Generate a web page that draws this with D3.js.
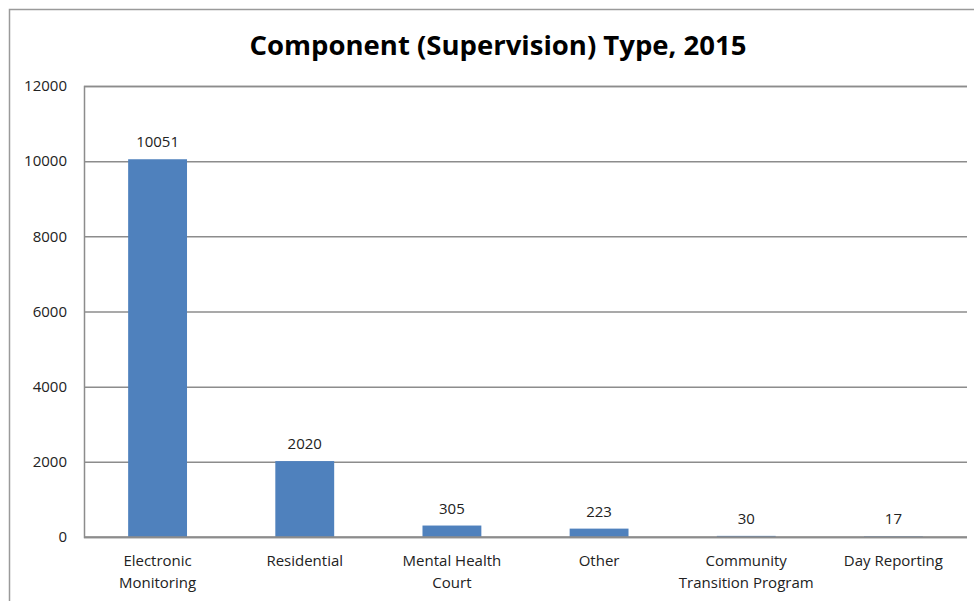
<!DOCTYPE html>
<html>
<head>
<meta charset="utf-8">
<script src="https://cdn.jsdelivr.net/npm/d3@7"></script>
<style>
  body { margin: 0; background: #fff; }
  svg { display: block; font-family: "Open Sans", sans-serif; }
</style>
</head>
<body>
<svg width="974" height="601"></svg>
<script>
// данные графика
const categories = [
    ["Electronic", "Monitoring"],
    ["Residential"],
    ["Mental Health", "Court"],
    ["Other"],
    ["Community", "Transition Program"],
    ["Day Reporting"]
];
const values = [10051, 2020, 305, 223, 30, 17];
const yTicks = [0, 2000, 4000, 6000, 8000, 10000, 12000];
const title = "Component (Supervision) Type, 2015";

const svg = d3.select("svg");

const area = { left: 84, top: 86, right: 967, bottom: 537 };
const fs = "15px";

// рамка всей диаграммы (обрезана справа и снизу)
svg.append("rect")
    .attr("x", 9.5).attr("y", 9.5)
    .attr("width", 1000).attr("height", 1000)
    .attr("fill", "none")
    .attr("stroke", "#9a9a9a")
    .attr("stroke-width", 1.5);

svg.append("text")
    .attr("x", 498)
    .attr("y", 55)
    .attr("text-anchor", "middle")
    .style("font-size", "27.5px")
    .style("font-weight", "bold")
    .attr("fill", "#000")
    .text(title);

const idx = d3.range(values.length);

const scX = d3.scaleBand()
    .domain(idx)
    .range([area.left, area.right])
    .paddingInner(0.6)
    .paddingOuter(0.3);

const scY = d3.scaleLinear()
    .domain([0, 12000])
    .range([area.bottom, area.top]);

// сетка и ось Y
const axisY = d3.axisLeft(scY)
    .tickValues(yTicks)
    .tickSize(-(area.right - area.left))
    .tickPadding(17)
    .tickFormat(d3.format("d"));

const gY = svg.append("g")
    .attr("transform", `translate(${area.left},0)`)
    .call(axisY);
gY.select(".domain").attr("stroke", "#8c8c8c").attr("stroke-width", 1.5);
gY.selectAll(".tick line").attr("stroke", "#8c8c8c").attr("stroke-width", 1.5);
gY.selectAll(".tick text")
    .style("font-size", fs)
    .style("font-family", "'Open Sans', sans-serif")
    .attr("fill", "#222");

// столбцы
svg.selectAll(".bar")
    .data(idx)
    .enter()
    .append("rect")
    .attr("x", i => scX(i))
    .attr("width", scX.bandwidth())
    .attr("y", i => scY(values[i]))
    .attr("height", i => scY(0) - scY(values[i]))
    .attr("fill", "#4f81bd");

// ось X (линия)
svg.append("line")
    .attr("x1", area.left).attr("x2", area.right)
    .attr("y1", area.bottom).attr("y2", area.bottom)
    .attr("stroke", "#8c8c8c").attr("stroke-width", 1.5);

// подписи значений
svg.selectAll(".val")
    .data(idx)
    .enter()
    .append("text")
    .attr("x", i => scX(i) + scX.bandwidth() / 2)
    .attr("y", i => scY(values[i]) - 12)
    .attr("text-anchor", "middle")
    .style("font-size", fs)
    .attr("fill", "#222")
    .text(i => values[i]);

// подписи категорий
const catG = svg.selectAll(".cat")
    .data(idx)
    .enter()
    .append("text")
    .attr("text-anchor", "middle")
    .style("font-size", fs)
    .attr("fill", "#222");

catG.selectAll("tspan")
    .data(i => categories[i].map(t => ({ i, t })))
    .enter()
    .append("tspan")
    .attr("x", d => scX(d.i) + scX.bandwidth() / 2)
    .attr("y", (d, k) => 566 + k * 22)
    .text(d => d.t);
</script>
</body>
</html>
